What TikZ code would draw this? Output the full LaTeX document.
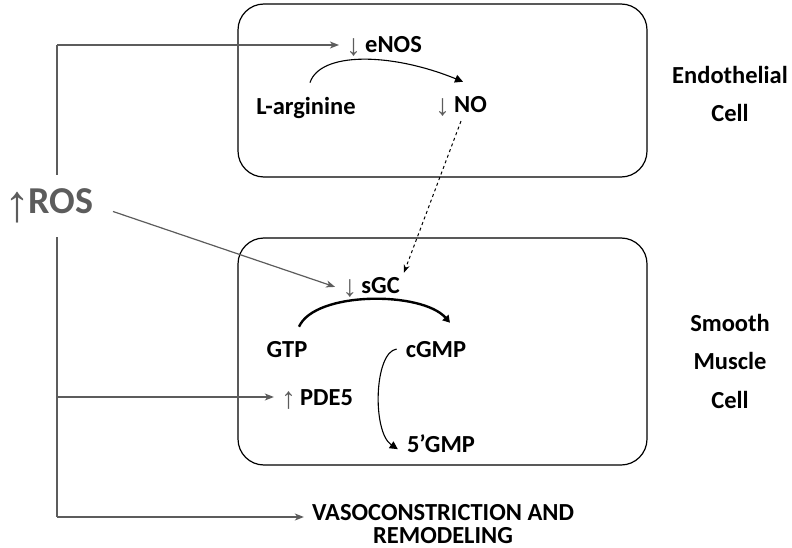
\documentclass[tikz,border=0pt]{standalone}
\usepackage{fontspec}
\setmainfont{Carlito}
\newfontfamily\arrfont{Liberation Sans}
\usepackage{xcolor}
\usetikzlibrary{arrows.meta}
\definecolor{rosgray}{RGB}{92,92,92}
\newcommand{\decr}{\raisebox{-3pt}{\color{rosgray}\arrfont\mdseries\fontsize{30}{30}\selectfont ↓}}
\newcommand{\incr}{\raisebox{-3pt}{\color{rosgray}\arrfont\mdseries\fontsize{30}{30}\selectfont ↑}}

\begin{document}
\begin{tikzpicture}[x=1pt,y=1pt,
    lbl/.style={font=\bfseries\fontsize{24.5}{28}\selectfont, inner ysep=4pt, inner xsep=7pt, anchor=base},
    celltxt/.style={font=\bfseries\fontsize{24.5}{38.3}\selectfont, align=center, anchor=base},
    cellbox/.style={draw, line width=1.2pt, rounded corners=26pt},
    rosline/.style={draw=rosgray, line width=1.2pt, -{Stealth[length=9pt,width=7pt,inset=2.5pt]}},
    react/.style={line width=1.1pt, -{Triangle[length=8pt,width=8pt]}},
    mainreact/.style={line width=2.4pt, -{Triangle[length=7pt,width=8pt]}}]
    \useasboundingbox (0,0) rectangle (792,-548);

    \draw[cellbox] (238,-4) rectangle (647,-177);
    \draw[cellbox] (238,-238) rectangle (647,-465);

    \node[lbl] (enos) at (384,-53) {\decr\,eNOS};
    \node[lbl] (larg) at (306,-115) {L-arginine};
    \node[lbl] (no) at (461,-113) {\decr\,NO};
    \node[lbl] (sgc) at (371,-293) {\decr\,sGC};
    \node[lbl] (gtp) at (287,-357) {GTP};
    \node[lbl] (cgmp) at (436,-357) {cGMP};
    \node[lbl] (pde) at (317,-405) {\incr\,PDE5};
    \node[lbl] (gmp) at (441,-452) {5’GMP};
    \node[celltxt] (endo) at (730,-122) {Endothelial\\Cell};
    \node[celltxt] (smc) at (730,-408) {Smooth\\Muscle\\Cell};
    \node[font=\bfseries\fontsize{24.5}{23}\selectfont, align=center, anchor=base, inner xsep=8pt] (vaso) at (443,-543)
        {VASOCONSTRICTION AND\\REMODELING};
    \node[font=\bfseries\fontsize{38}{44}\selectfont, text=rosgray, text height=28pt, text depth=12pt,
        inner ysep=11pt, anchor=base] (ros) at (49,-214)
        {\raisebox{-8pt}{\arrfont\mdseries\fontsize{52}{52}\selectfont ↑}\kern-2pt ROS};

    \coordinate (top) at (57,-45);
    \coordinate (mid) at (57,-397);
    \coordinate (bot) at (57,-517);

    \draw[draw=rosgray, line width=1.2pt] (top) -- (ros.north -| top);
    \draw[draw=rosgray, line width=1.2pt] (ros.south -| top) -- (bot);
    \draw[rosline] (top) -- (top -| enos.west);
    \draw[rosline] (mid) -- (mid -| pde.west);
    \draw[rosline] (bot) -- (bot -| vaso.west);
    \draw[rosline, shorten <=17pt] (ros.east) -- (sgc.west);

    \draw[react] ([shift={(4pt,11pt)}]larg.north) .. controls (320,-52) and (390,-52) .. ([shift={(2pt,11pt)}]no.north);
    \draw[mainreact] ([shift={(12pt,10pt)}]gtp.north) .. controls (315,-291) and (422,-291) .. ([shift={(14pt,14pt)}]cgmp.north);
    \draw[react] ([xshift=-2pt]cgmp.west) .. controls (374,-352) and (372,-432) .. ([shift={(-2pt,-6pt)}]gmp.west);
    \draw[line width=1pt, dashed, -{Stealth[length=8pt,width=6pt]}] (no.south) -- ([xshift=-3pt]sgc.north east);
\end{tikzpicture}
\end{document}
